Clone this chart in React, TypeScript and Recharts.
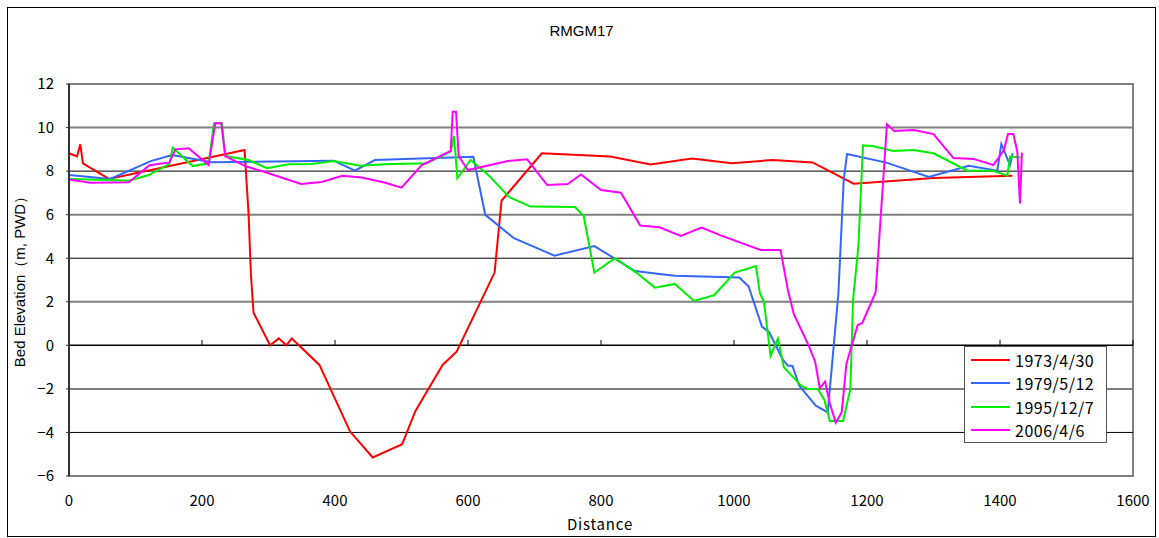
import { LineChart, Line, XAxis, YAxis, ReferenceLine, ReferenceArea } from "recharts";

const xTicks = [0, 200, 400, 600, 800, 1000, 1200, 1400, 1600];
const yTicks = [-6, -4, -2, 0, 2, 4, 6, 8, 10, 12];
const grayGrid = [12, 10, 6, 2, -2, -6];
const blackGrid = [8, 4, -4];

const dist1973 = [0, 12, 17, 21, 60, 264, 270, 273.5, 277.5, 302.5, 315.5, 326.6, 335, 376.6, 422.7, 456.7, 501, 521, 561.8, 582.9, 640, 650.4, 711, 814, 874.6, 936.6, 996.7, 1058, 1118, 1180, 1300, 1418.6];
const elev1973 = [8.82, 8.67, 9.23, 8.36, 7.64, 8.97, 6.06, 3.3, 1.5, 0.0, 0.32, 0.0, 0.31, -0.9, -3.96, -5.15, -4.54, -3.01, -0.9, -0.29, 3.34, 6.64, 8.82, 8.67, 8.3, 8.58, 8.36, 8.51, 8.4, 7.42, 7.68, 7.79];

const dist1979 = [0, 62, 123, 155, 215, 398, 430, 460, 608, 626, 669, 730, 790, 851, 888, 911, 1008, 1022, 1042, 1053, 1073, 1081, 1088, 1098, 1123, 1141, 1157, 1165, 1170, 1229, 1293, 1353, 1396, 1402, 1415, 1419];
const elev1979 = [7.82, 7.64, 8.46, 8.74, 8.41, 8.48, 8.02, 8.51, 8.66, 5.99, 4.92, 4.12, 4.56, 3.41, 3.28, 3.2, 3.11, 2.7, 0.86, 0.6, -0.64, -0.93, -0.95, -1.85, -2.77, -3.08, 2.39, 7.6, 8.79, 8.39, 7.73, 8.25, 8.02, 9.25, 8.28, 8.82];

const dist1995 = [0, 62, 90, 120, 151, 156, 186, 210, 218, 230, 235, 270, 298, 330, 364, 398, 438, 474, 538, 574, 579, 584, 604, 632, 662, 694, 761, 774, 790, 821, 853, 881, 911, 940, 970, 1001, 1033, 1039, 1045, 1055, 1066, 1075, 1101, 1111, 1126, 1136, 1144, 1164, 1175, 1179, 1187, 1194, 1208, 1240, 1270, 1300, 1351, 1389, 1411, 1415, 1431];
const elev1995 = [7.64, 7.59, 7.56, 7.82, 8.33, 9.08, 8.23, 8.36, 10.2, 10.2, 8.69, 8.51, 8.13, 8.31, 8.33, 8.46, 8.25, 8.31, 8.36, 8.9, 9.61, 7.67, 8.51, 7.78, 6.8, 6.37, 6.35, 5.94, 3.34, 4.0, 3.34, 2.65, 2.82, 2.04, 2.3, 3.34, 3.64, 2.39, 2.0, -0.49, 0.31, -1.01, -1.85, -2.0, -2.0, -2.51, -3.47, -3.47, -2.0, 2.08, 4.53, 9.18, 9.15, 8.92, 8.97, 8.82, 8.02, 8.02, 7.79, 8.67, 8.63];

const dist2006 = [0, 32, 90, 121, 151, 160, 180, 210, 220, 229, 235, 265, 292, 349, 380, 411, 440, 473, 500, 530, 574, 577, 582, 586, 600, 660, 689, 719, 750, 770, 800, 830, 859, 888, 920, 951, 981, 1040, 1070, 1081, 1090, 1113, 1122, 1129, 1137, 1144, 1153, 1162, 1169, 1186, 1193, 1213, 1230, 1241, 1270, 1300, 1330, 1360, 1390, 1406, 1412, 1420, 1426, 1430, 1433];
const elev2006 = [7.62, 7.47, 7.49, 8.27, 8.4, 9.0, 9.05, 8.28, 10.2, 10.2, 8.69, 8.23, 7.98, 7.41, 7.5, 7.79, 7.71, 7.49, 7.24, 8.27, 8.93, 10.73, 10.73, 8.67, 8.05, 8.46, 8.54, 7.36, 7.41, 7.85, 7.13, 7.01, 5.5, 5.42, 5.02, 5.41, 5.04, 4.38, 4.38, 2.54, 1.43, -0.06, -0.75, -1.97, -1.66, -2.66, -3.55, -3.07, -0.86, 0.93, 1.03, 2.44, 10.15, 9.84, 9.89, 9.7, 8.6, 8.56, 8.28, 8.97, 9.7, 9.7, 8.9, 6.52, 8.85];

const toPoints = (d: number[], e: number[]) => d.map((x, i) => ({ x, y: e[i] }));

const series = [
  { name: "1973/4/30", color: "#ff0000", data: toPoints(dist1973, elev1973) },
  { name: "1979/5/12", color: "#3366ff", data: toPoints(dist1979, elev1979) },
  { name: "1995/12/7", color: "#00ee00", data: toPoints(dist1995, elev1995) },
  { name: "2006/4/6", color: "#ff00ff", data: toPoints(dist2006, elev2006) },
];

const FONT = "'Noto Sans CJK JP', 'Liberation Sans', sans-serif";

export default function App() {
  return (
    <div style={{ position: "relative", width: 1159, height: 538, background: "#fff" }}>
      <style>{"body{margin:0}"}</style>
      <div style={{ position: "absolute", left: 7, top: 7, width: 1147, height: 528, border: "1.5px solid #000" }} />
      <div style={{ position: "absolute", left: 0, top: 0 }}>
        <LineChart width={1159} height={538} margin={{ top: 84, right: 26, bottom: 32, left: 9 }}>
          {grayGrid.map((v) => (
            <ReferenceLine key={`g${v}`} y={v} stroke="#808080" strokeWidth={2} />
          ))}
          {blackGrid.map((v) => (
            <ReferenceLine key={`b${v}`} y={v} stroke="#000" strokeWidth={1} />
          ))}
          <ReferenceArea x1={0} x2={1600} y1={-6} y2={12} fill="none" stroke="#808080" strokeWidth={2} />
          <ReferenceLine y={0} stroke="#000" strokeWidth={1.5} />
          {xTicks.slice(1).map((t) => (
            <ReferenceLine key={`t${t}`} segment={[{ x: t, y: 0 }, { x: t, y: 0.25 }]} stroke="#000" strokeWidth={1} />
          ))}
          <XAxis
            type="number"
            dataKey="x"
            domain={[0, 1600]}
            ticks={xTicks}
            interval={0}
            height={30}
            axisLine={false}
            tickLine={false}
            tickSize={0}
            tickMargin={19}
            tick={{ fill: "#000", fontSize: 15, fontFamily: FONT }}
            allowDuplicatedCategory={false}
          />
          <YAxis
            type="number"
            domain={[-6, 12]}
            ticks={yTicks}
            interval={0}
            width={60}
            axisLine={{ stroke: "#333", strokeWidth: 2 }}
            tickLine={{ stroke: "#333" }}
            tickSize={3}
            tickMargin={12}
            tick={{ fill: "#000", fontSize: 15, fontFamily: FONT }}
            tickFormatter={(v: number) => (v < 0 ? `−${Math.abs(v)}` : `${v}`)}
          />
          {series.map((s) => (
            <Line
              key={s.name}
              data={s.data}
              dataKey="y"
              name={s.name}
              type="linear"
              stroke={s.color}
              strokeWidth={2}
              dot={false}
              activeDot={false}
              isAnimationActive={false}
            />
          ))}
        </LineChart>
      </div>
      <div style={{ position: "absolute", left: 0, width: 1159, top: 22, textAlign: "center", fontFamily: "'Liberation Sans Narrow', 'Liberation Sans', sans-serif", fontSize: 15, paddingLeft: 2 }}>
        RMGM17
      </div>
      <div style={{ position: "absolute", left: 0, width: 1200, top: 515, textAlign: "center", fontFamily: FONT, fontSize: 15, letterSpacing: 0.8, lineHeight: "18px" }}>
        Distance
      </div>
      <div style={{ position: "absolute", left: 20, top: 278, transform: "translate(-50%, -50%) rotate(-90deg)", whiteSpace: "nowrap", fontFamily: "'Liberation Sans', sans-serif", fontSize: 15 }}>
        Bed Elevation（m, PWD）
      </div>
      <div style={{ position: "absolute", left: 964, top: 346, width: 143, height: 97, boxSizing: "border-box", border: "1px solid #555", background: "#fff", padding: "1px 0 0 6px" }}>
        {series.map((s) => (
          <div key={s.name} style={{ display: "flex", alignItems: "center", height: 23.5 }}>
            <div style={{ width: 39, height: 2, background: s.color, marginRight: 5 }} />
            <span style={{ fontFamily: FONT, fontSize: 16, lineHeight: "20px", color: "#000", letterSpacing: 0.5 }}>{s.name}</span>
          </div>
        ))}
      </div>
    </div>
  );
}
